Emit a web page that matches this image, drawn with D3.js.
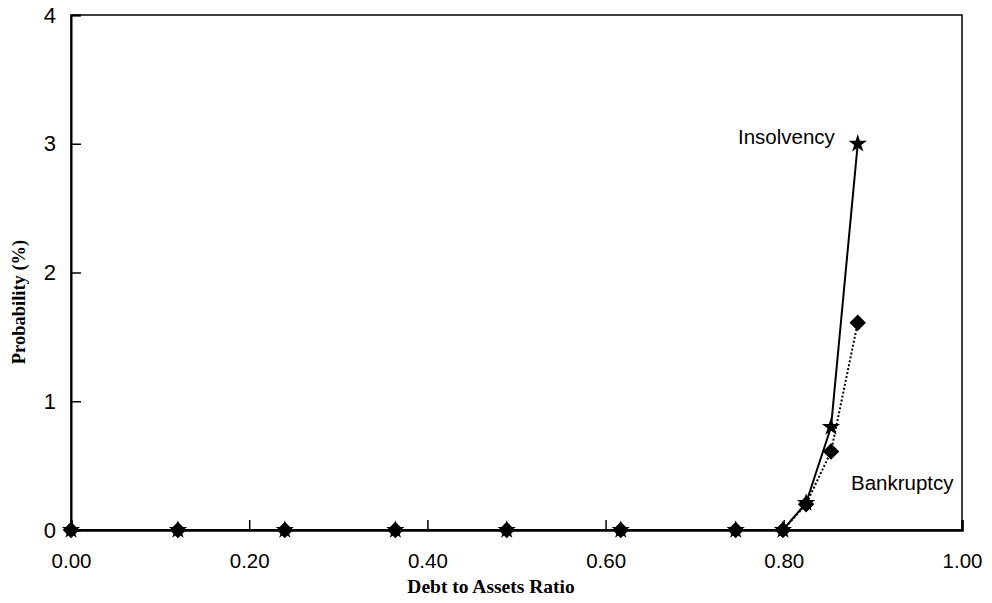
<!DOCTYPE html>
<html>
<head>
<meta charset="utf-8">
<script src="https://cdn.jsdelivr.net/npm/d3@7"></script>
<style>
html,body{margin:0;padding:0;background:#fff;}
svg{display:block;}
</style>
</head>
<body>
<svg id="chart" width="992" height="603"></svg>
<script>
const debtRatio = [0.00, 0.12, 0.24, 0.364, 0.489, 0.617, 0.746, 0.799, 0.825, 0.853, 0.883];
const insolvency = [0, 0, 0, 0, 0, 0, 0, 0, 0.21, 0.80, 3.00];
const bankruptcy = [0, 0, 0, 0, 0, 0, 0, 0, 0.20, 0.61, 1.61];
const xTicks = [0, 0.2, 0.4, 0.6, 0.8, 1.0];
const yTicks = [0, 1, 2, 3, 4];

const svg = d3.select("#chart");
const m = {left: 71, right: 962, top: 15, bottom: 530};
const x = d3.scaleLinear().domain([0, 1]).range([m.left, m.right]);
const y = d3.scaleLinear().domain([0, 4]).range([m.bottom, m.top]);
const sans = "Liberation Sans, Arial, sans-serif";
const serif = "Liberation Serif, Times New Roman, serif";

// frame
svg.append("rect").attr("x", m.left).attr("y", m.top)
  .attr("width", m.right - m.left).attr("height", m.bottom - m.top)
  .attr("fill", "none").attr("stroke", "#000").attr("stroke-width", 1.5);

// axes with inward ticks
const xAxis = d3.axisBottom(x).tickValues(xTicks).tickSize(-10).tickPadding(23).tickFormat(d3.format(".2f"));
const gx = svg.append("g").attr("transform", `translate(0,${m.bottom})`).call(xAxis);
gx.select(".domain").attr("stroke-width", 2.5);
gx.selectAll(".tick line").attr("stroke-width", 1.5);
gx.selectAll(".tick text").attr("font-family", sans).attr("font-size", 20.5).attr("fill", "#000");

const yAxis = d3.axisLeft(y).tickValues(yTicks).tickSize(-10).tickPadding(15).tickFormat(d3.format("d"));
const gy = svg.append("g").attr("transform", `translate(${m.left},0)`).call(yAxis);
gy.select(".domain").attr("stroke-width", 2);
gy.selectAll(".tick line").attr("stroke-width", 1.5);
gy.selectAll(".tick text").attr("font-family", sans).attr("font-size", 22).attr("fill", "#000");

// lines
const insData = debtRatio.map((d, i) => ({x: d, y: insolvency[i]}));
const bkData = debtRatio.map((d, i) => ({x: d, y: bankruptcy[i]}));
const line = d3.line().x(d => x(d.x)).y(d => y(d.y));

svg.append("path").datum(bkData).attr("d", line)
  .attr("fill", "none").attr("stroke", "#000").attr("stroke-width", 2).attr("stroke-dasharray", "2,2");
svg.append("path").datum(insData).attr("d", line)
  .attr("fill", "none").attr("stroke", "#000").attr("stroke-width", 2);

// markers
const diamond = d3.symbol().type(d3.symbolSquare).size(135);
svg.append("g").selectAll("path").data(bkData).join("path")
  .attr("d", diamond)
  .attr("transform", d => `translate(${x(d.x)},${y(d.y)}) rotate(45)`)
  .attr("fill", "#000");
const star = d3.symbol().type(d3.symbolStar).size(105);
svg.append("g").selectAll("path").data(insData).join("path")
  .attr("d", star)
  .attr("transform", d => `translate(${x(d.x)},${y(d.y)})`)
  .attr("fill", "#000");

// annotations
svg.append("text").attr("x", 738).attr("y", 144).text("Insolvency")
  .attr("font-family", sans).attr("font-size", 20.5).attr("fill", "#000");
svg.append("text").attr("x", 851).attr("y", 490).text("Bankruptcy")
  .attr("font-family", sans).attr("font-size", 20.5).attr("fill", "#000");

// axis titles
svg.append("text").attr("x", 491).attr("y", 593).attr("text-anchor", "middle")
  .text("Debt to Assets Ratio")
  .attr("font-family", serif).attr("font-weight", "bold").attr("font-size", 19.5).attr("fill", "#000");
svg.append("text").attr("transform", `translate(25,302) rotate(-90)`).attr("text-anchor", "middle")
  .text("Probability (%)")
  .attr("font-family", serif).attr("font-weight", "bold").attr("font-size", 18.5).attr("fill", "#000");
</script>
</body>
</html>
